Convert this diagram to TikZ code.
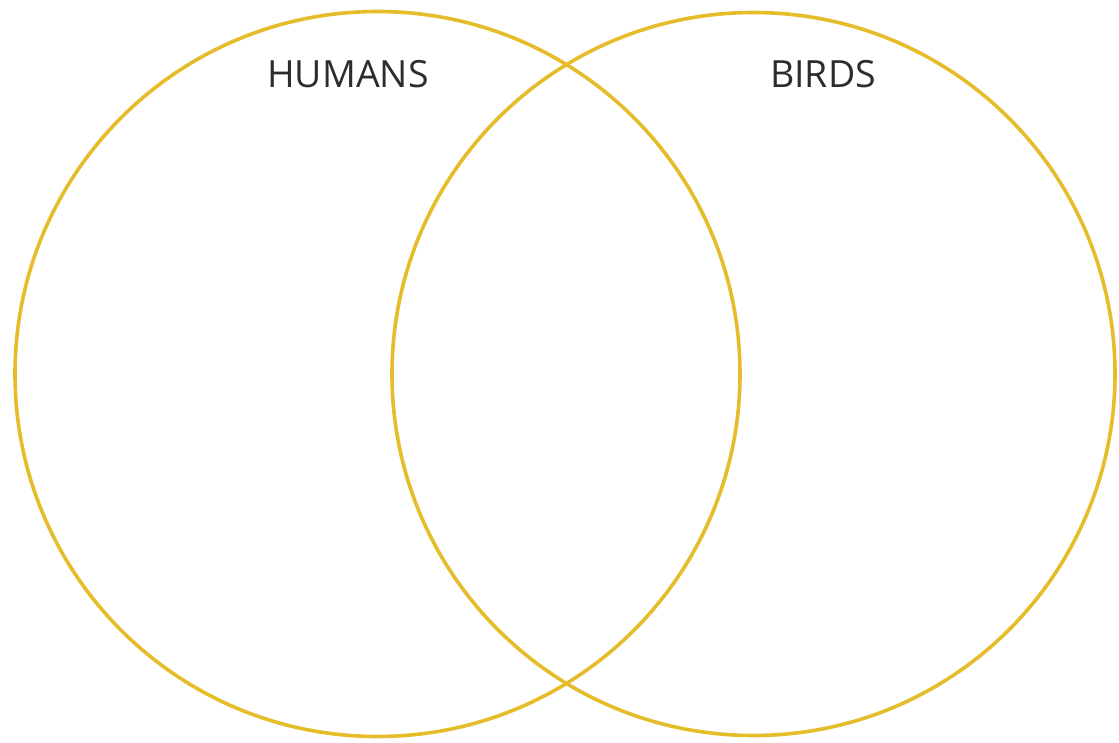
\documentclass[tikz,border=0pt]{standalone}
\usepackage{fontspec}
\setmainfont{Open Sans}
\definecolor{venn}{RGB}{229,188,42}
\definecolor{labeltext}{RGB}{45,45,45}
\begin{document}
\begin{tikzpicture}[x=1pt,y=-1pt,
  setcircle/.style={draw=venn,line width=3.6pt},
  setlabel/.style={text=labeltext,font=\fontsize{37.5}{44}\selectfont,inner sep=0pt,anchor=base}]
\useasboundingbox (0,0) rectangle (1119,743);
\node[setcircle,circle,minimum size=725pt,inner sep=0pt] (humans) at (377.5,374) {};
\node[setcircle,circle,minimum size=723pt,inner sep=0pt] (birds) at (753.5,374) {};
\node[setlabel] (hl) at (348,88) {HUMANS};
\node[setlabel] (bl) at (823,88) {BIRDS};
\end{tikzpicture}
\end{document}
